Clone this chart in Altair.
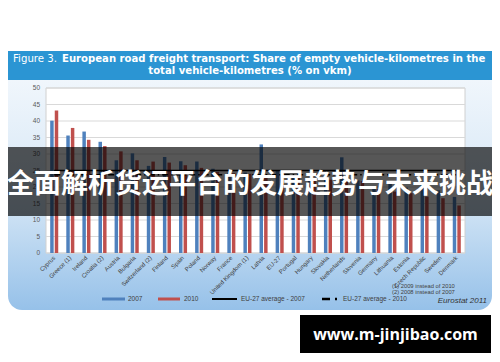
import altair as alt
import pandas as pd

countries = ["Cyprus", "Greece (1)", "Ireland", "Croatia (2)", "Austria", "Bulgaria",
             "Switzerland (2)", "Finland", "Spain", "Poland", "Norway", "France",
             "United Kingdom (1)", "Latvia", "EU-27", "Portugal", "Hungary", "Slovakia",
             "Netherlands", "Slovenia", "Germany", "Lithuania", "Estonia",
             "Czech Republic", "Sweden", "Denmark"]
share_2007 = [40.1, 35.6, 36.8, 33.7, 28.1, 30.2, 26.4, 29.1, 27.8, 27.7, 25.5, 24.3,
              24.4, 32.9, 25.0, 23.0, 22.2, 23.4, 29.0, 22.0, 20.2, 21.0, 19.8, 21.0,
              19.0, 17.0]
share_2010 = [43.2, 37.9, 34.3, 32.4, 30.8, 28.1, 27.7, 27.4, 26.6, 25.8, 24.6, 24.2,
              24.0, 23.8, 23.7, 23.3, 22.6, 22.2, 21.9, 21.8, 19.4, 18.6, 18.1, 17.1,
              16.6, 14.4]
years = ["2007", "2010"]
eu_avg = [25.0, 23.7]
y_ticks = [0, 5, 10, 15, 20, 25, 30, 35, 40, 45, 50]

title_prefix = "Figure 3."
title_line1 = "European road freight transport: Share of empty vehicle-kilometres in the"
title_line2 = "total vehicle-kilometres (% on vkm)"
legend_labels = ["2007", "2010", "EU-27 average - 2007", "EU-27 average - 2010"]
footnotes = ["(1) 2009 instead of 2010", "(2) 2008 instead of 2007"]
source = "Eurostat 2011"
banner = "全面解析货运平台的发展趋势与未来挑战"
url = "www.m-jinjibao.com"

rows = []
for c, a, b in zip(countries, share_2007, share_2010):
    rows.append({"country": c, "year": years[0], "share": a})
    rows.append({"country": c, "year": years[1], "share": b})
bars_df = pd.DataFrame(rows)
cty_df = pd.DataFrame({"country": countries})
tick_df = pd.DataFrame({"tick": y_ticks})
avg_df = pd.DataFrame({"series": years, "value": eu_avg,
                       "first": [countries[0]] * 2, "last": [countries[-1]] * 2})
one = pd.DataFrame({"k": [0]})

W, H = 419, 165
BLUE, RED = "#4f81bd", "#c0504d"
FONT = "Liberation Sans"
TXT = "#404040"

xscale = alt.Scale(domain=countries, paddingInner=0.5, paddingOuter=0.26)
yscale = alt.Scale(domain=[0, 50], nice=False, zero=True)


def rect(x, x2, y, y2, **kw):
    return alt.Chart(one).mark_rect(**kw).encode(
        x=alt.value(x), x2=alt.value(x2), y=alt.value(y), y2=alt.value(y2))


def text(s, x, y, **kw):
    return alt.Chart(one).mark_text(**kw).encode(
        x=alt.value(x), y=alt.value(y), text=alt.value(s))


body = rect(-38, 446, -30, 222, cornerRadius=14,
            fill=alt.Gradient(gradient="linear",
                              stops=[alt.GradientStop(color="#f5f9fd", offset=0),
                                     alt.GradientStop(color="#d6e7f6", offset=0.55),
                                     alt.GradientStop(color="#96c1e9", offset=1)],
                              x1=0, x2=0, y1=0, y2=1))
title_bar = rect(-38, 446, -37, -8, fill="#2b95d3")
t_prefix = text(title_prefix, -33, -29.5, align="left", baseline="middle",
                font="DejaVu Sans", fontSize=10.2, color="white")
t_line1 = text(title_line1, 16, -29.5, align="left", baseline="middle",
               font="DejaVu Sans", fontWeight="bold", fontSize=10.1, color="white")
t_line2 = text(title_line2, 204, -17, align="center", baseline="middle",
               font="DejaVu Sans", fontWeight="bold", fontSize=10.1, color="white")

plot_bg = rect(0, W, 0, H, fill="white", stroke="#d0d0d0", strokeWidth=1)

grid = alt.Chart(tick_df).mark_rule(color="#d9d9d9", strokeWidth=1).encode(
    y=alt.Y("tick:Q", scale=yscale, axis=None), x=alt.value(0), x2=alt.value(W))
ylabels = alt.Chart(tick_df).mark_text(align="right", baseline="middle", fontSize=6.5,
                                       font=FONT, color="#595959").encode(
    y=alt.Y("tick:Q", scale=yscale, axis=None), x=alt.value(-6), text="tick:Q")

bars = alt.Chart(bars_df).mark_bar().encode(
    x=alt.X("country:N", scale=xscale, axis=None, sort=countries),
    xOffset=alt.XOffset("year:N", scale=alt.Scale(domain=years, paddingInner=0.24)),
    y=alt.Y("share:Q", scale=yscale, axis=None),
    color=alt.Color("year:N", scale=alt.Scale(domain=years, range=[BLUE, RED]), legend=None),
)

avg07 = alt.Chart(avg_df[avg_df.series == years[0]]).mark_rule(
    color="black", strokeWidth=1.5).encode(
    x=alt.X("first:N", scale=xscale, axis=None), x2="last:N",
    y=alt.Y("value:Q", scale=yscale, axis=None))
avg10 = alt.Chart(avg_df[avg_df.series == years[1]]).mark_rule(
    color="black", strokeWidth=1.5, strokeDash=[6, 3, 1.5, 3]).encode(
    x=alt.X("first:N", scale=xscale, axis=None), x2="last:N",
    y=alt.Y("value:Q", scale=yscale, axis=None))

xlabels = alt.Chart(cty_df).mark_text(angle=315, align="right", baseline="middle",
                                      fontSize=6, font=FONT, color=TXT).encode(
    x=alt.X("country:N", scale=xscale, axis=None), y=alt.value(H + 4), text="country:N")

LY = 211
leg = [
    rect(56, 79, LY - 1.5, LY + 1.5, fill=BLUE),
    text(legend_labels[0], 82, LY, align="left", baseline="middle", fontSize=6.5, font=FONT, color=TXT),
    rect(112, 134, LY - 1.5, LY + 1.5, fill=RED),
    text(legend_labels[1], 138, LY, align="left", baseline="middle", fontSize=6.5, font=FONT, color=TXT),
    alt.Chart(one).mark_rule(color="black", strokeWidth=2).encode(
        x=alt.value(166), x2=alt.value(191), y=alt.value(LY)),
    text(legend_labels[2], 195, LY, align="left", baseline="middle", fontSize=6.5, font=FONT, color=TXT),
    alt.Chart(one).mark_rule(color="black", strokeWidth=2.5, strokeDash=[8, 5, 2, 20]).encode(
        x=alt.value(276), x2=alt.value(292), y=alt.value(LY)),
    text(legend_labels[3], 297, LY, align="left", baseline="middle", fontSize=6.5, font=FONT, color=TXT),
    text(footnotes[0], 346, 197.5, align="left", baseline="middle", fontSize=5.8, font=FONT, color=TXT),
    text(footnotes[1], 346, 204, align="left", baseline="middle", fontSize=5.8, font=FONT, color=TXT),
    text(source, 441, 212.5, align="right", baseline="middle", fontSize=8, font=FONT,
         fontStyle="italic", color="#333333"),
]

banner_rect = rect(-39, 447, 59, 128, fill="black", opacity=0.66)
banner_text = text(banner, 204, 97, align="center", baseline="middle",
                   font="Noto Sans CJK SC", fontWeight="bold", fontSize=27, color="white")
url_box = rect(254, 445, 227, 265, fill="black")
url_text = text(url, 349.5, 246.5, align="center", baseline="middle",
                font="Open Sans", fontWeight="bold", fontSize=16, color="white")

chart = alt.layer(
    body, title_bar, t_prefix, t_line1, t_line2, plot_bg, grid, ylabels, bars,
    avg07, avg10, xlabels, *leg, banner_rect, banner_text, url_box, url_text
).properties(
    width=W, height=H, autosize="none", background="white",
    padding={"left": 38, "top": 80, "right": 27, "bottom": 101},
).configure_view(stroke=None)

chart.save("out.html", embed_options={"renderer": "svg", "actions": False})
